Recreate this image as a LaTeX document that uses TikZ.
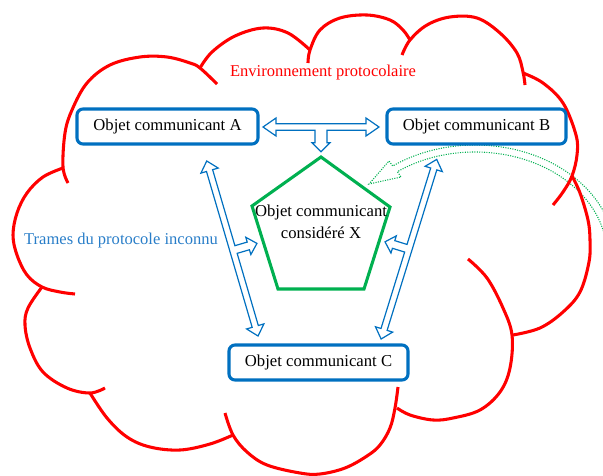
\documentclass[tikz,border=0pt]{standalone}
\usepackage{fontspec}
\setmainfont{Liberation Serif}
\usetikzlibrary{calc}
\definecolor{cloudred}{RGB}{255,0,0}
\definecolor{objblue}{RGB}{0,112,192}
\definecolor{trameblue}{RGB}{40,125,200}
\definecolor{xgreen}{RGB}{0,176,80}
\tikzset{
  cloudline/.style={draw=cloudred,line width=2.3pt},
  objbox/.style={draw=objblue,line width=2.3pt,rounded corners=4.5pt,fill=white,
    minimum height=26.25pt,inner sep=0pt,font=\fontsize{12.5}{14}\selectfont},
  blockarrow/.style={draw=objblue,fill=white,line width=0.9pt,line join=miter},
  xpent/.style={draw=xgreen,line width=2.3pt,line join=miter},
  garrow/.style={draw=xgreen,line width=0.8pt,densely dotted},
  txt/.style={font=\fontsize{12.4}{14}\selectfont,inner sep=0pt}
}
% T-shaped block arrow in local coordinates:
% #1 half length, #2 head length, #3 branch offset, #4 branch reach, #5 stem half width
\newcommand\tarrow[5]{%
  \path[blockarrow] ({-#1},0) -- ({-#1+#2},-9) -- ({-#1+#2},-3.2) -- ({#1-#2},-3.2)
    -- ({#1-#2},-9) -- ({#1},0) -- ({#1-#2},9) -- ({#1-#2},3.2) -- ({#3+#5},3.2)
    -- ({#3+#5},{#4-9}) -- ({#3+9},{#4-9}) -- ({#3},{#4}) -- ({#3-9},{#4-9})
    -- ({#3-#5},{#4-9}) -- ({#3-#5},3.2) -- ({-#1+#2},3.2) -- ({-#1+#2},9) -- cycle;}
\begin{document}
\begin{tikzpicture}[x=0.75pt,y=-0.75pt]
\useasboundingbox (0,0) rectangle (603,475);

% curved dotted arrow (drawn first, leaves the frame on the right)
\begin{scope}
  \clip (0,0) rectangle (603,475);
  \coordinate (gc) at (475,255);
  \draw[garrow] ($(gc)+(10:140 and 110)$)
    arc[start angle=10,end angle=-126,x radius=140,y radius=110]
    -- (389,161) -- (369,184) -- (401,177)
    -- ($(gc)+(-126:132 and 103)$)
    arc[start angle=-126,end angle=10,x radius=132,y radius=103] -- cycle;
\end{scope}

% cloud outline, one bump after another
\draw[cloudline] plot[smooth,tension=0.6] coordinates {(68,183) (63,167) (65,133) (72,110) (87,83) (110,65) (140,57) (167,57) (190,63) (200,68) (217,84)};
\draw[cloudline] plot[smooth,tension=0.6] coordinates {(200,68) (212,52) (235,36) (263,28) (288,33) (310,50)};
\draw[cloudline] plot[smooth,tension=0.6] coordinates {(308,63) (310,50) (320,30) (340,18) (367,15) (390,20) (403,30) (410,40)};
\draw[cloudline] plot[smooth,tension=0.6] coordinates {(402,55) (410,40) (427,25) (450,17) (477,18) (500,33) (517,53) (523,72) (525,85)};
\draw[cloudline] plot[smooth,tension=0.6] coordinates {(523,73) (543,83) (563,103) (576,135) (577,155) (572,176) (563,192) (553,205)};
\draw[cloudline] plot[smooth,tension=0.6] coordinates {(572,176) (580,193) (588,220) (590,240) (589,262) (580,292) (563,312) (540,328) (513,335)};
\draw[cloudline] plot[smooth,tension=0.6] coordinates {(468,259) (487,278) (503,308) (512,335) (510,368) (500,392) (480,410) (453,418) (433,420) (410,415) (397,408)};
\draw[cloudline] plot[smooth,tension=0.6] coordinates {(398,387) (395,408) (390,428) (380,445) (367,456) (345,468) (320,474) (300,473) (267,465) (247,452) (233,435) (225,413)};
\draw[cloudline] plot[smooth,tension=0.6] coordinates {(233,435) (210,444) (180,450) (150,447) (127,437) (107,418) (90,393)};
\draw[cloudline] plot[smooth,tension=0.6] coordinates {(105,388) (90,393) (67,388) (43,372) (30,348) (25,325) (28,308) (42,287)};
\draw[cloudline] plot[smooth,tension=0.6] coordinates {(75,294) (60,292) (42,287) (27,275) (17,255) (13,235) (17,213) (27,193) (43,177) (63,168)};

% labels
\node[txt,text=cloudred] (env) at (323,73) {Environnement protocolaire};
\node[txt,text=trameblue] (trames) at (121,241) {Trames du protocole inconnu};

% communicating objects
\node[objbox,minimum width=135.75pt] (objA) at (167.5,126.5) {Objet communicant A};
\node[objbox,minimum width=134.25pt] (objB) at (476.5,126.5) {Objet communicant B};
\node[objbox,minimum width=134.25pt] (objC) at (318.5,362.5) {Objet communicant C};

% object X
\coordinate (p1) at (321,157);
\coordinate (p2) at (390,207);
\coordinate (p3) at (364,289);
\coordinate (p4) at (278,289);
\coordinate (p5) at (252,206);
\draw[xpent] (p1) -- (p2) -- (p3) -- (p4) -- (p5) -- cycle;
\node[txt,align=center,font=\fontsize{12.5}{16.5}\selectfont] (objX) at (321,222) {Objet communicant\\considéré X};

% three-way frame arrows
\coordinate (ab) at (321,127);
\coordinate (ac) at (232.4,248.5);
\coordinate (bc) at (408.9,249.2);
\begin{scope}[shift={(ab)}] \tarrow{58}{13}{0}{24.7}{6} \end{scope}
\begin{scope}[shift={(ac)},rotate=-253.66] \tarrow{91.2}{10}{-2}{25}{4} \end{scope}
\begin{scope}[shift={(bc)},rotate=-107.2] \tarrow{94}{10}{0}{25}{4} \end{scope}
\end{tikzpicture}
\end{document}
